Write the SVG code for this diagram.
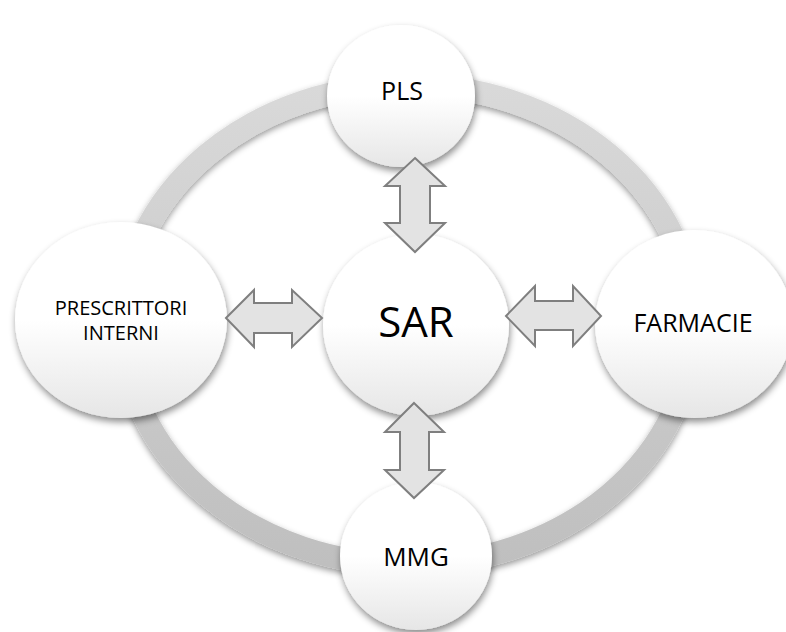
<svg xmlns="http://www.w3.org/2000/svg" width="786" height="632" viewBox="0 0 786 632">
<defs>
<linearGradient id="ringG" x1="0" y1="0" x2="0" y2="1">
<stop offset="0" stop-color="#d9d9d9"/>
<stop offset="1" stop-color="#bfbfbf"/>
</linearGradient>
<linearGradient id="nodeG" x1="0" y1="0" x2="0" y2="1">
<stop offset="0" stop-color="#ffffff"/>
<stop offset="0.5" stop-color="#ffffff"/>
<stop offset="1" stop-color="#e6e6e6"/>
</linearGradient>
<filter id="sh" x="-20%" y="-20%" width="140%" height="140%">
<feDropShadow dx="1" dy="4" stdDeviation="3.5" flood-color="#000" flood-opacity="0.45"/>
</filter>
<filter id="rsh" x="-10%" y="-10%" width="120%" height="120%">
<feDropShadow dx="0" dy="3" stdDeviation="3" flood-color="#000" flood-opacity="0.4"/>
</filter>
</defs>
<style>
.node{fill:url(#nodeG);filter:url(#sh)}
.lbl{font-family:"Open Sans","Liberation Sans",sans-serif;fill:#000;text-anchor:middle}
.arr{fill:#e3e3e3;stroke:#7f7f7f;stroke-width:2;stroke-linejoin:miter}
</style>
<rect width="786" height="632" fill="#fff"/>
<ellipse cx="408" cy="325" rx="285" ry="240" fill="none" stroke="url(#ringG)" stroke-width="23" filter="url(#rsh)"/>
<g id="node-pls">
<ellipse class="node" cx="401" cy="96" rx="74" ry="71"/>
<text class="lbl" x="402" y="100" font-size="25">PLS</text>
</g>
<g id="node-prescrittori">
<ellipse class="node" cx="121" cy="320" rx="106" ry="98"/>
<text class="lbl" x="121" y="315" font-size="20">PRESCRITTORI</text>
<text class="lbl" x="121" y="340" font-size="20">INTERNI</text>
</g>
<g id="node-farmacie">
<ellipse class="node" cx="694" cy="324" rx="99" ry="94"/>
<text class="lbl" x="693" y="332" font-size="25">FARMACIE</text>
</g>
<g id="node-mmg">
<ellipse class="node" cx="416" cy="556" rx="76" ry="74"/>
<text class="lbl" x="416" y="566" font-size="26">MMG</text>
</g>
<g id="node-sar">
<ellipse class="node" cx="416" cy="325" rx="93" ry="91"/>
<text class="lbl" x="416" y="337" font-size="42">SAR</text>
</g>
<g id="connectors">
<path class="arr" d="M415,158 L445,186 L430,186 L430,223 L445,223 L415,252 L385,223 L400,223 L400,186 L385,186 Z"/>
<path class="arr" d="M414,403 L444,432 L429,432 L429,470 L444,470 L414,498 L385,470 L400,470 L400,432 L385,432 Z"/>
<path class="arr" d="M226,318 L254,290 L254,303 L292,303 L292,290 L322,318 L292,347 L292,333 L254,333 L254,347 Z"/>
<path class="arr" d="M506,316 L535,286 L535,301 L573,301 L573,286 L601,316 L573,346 L573,330 L535,330 L535,346 Z"/>
</g>
</svg>
